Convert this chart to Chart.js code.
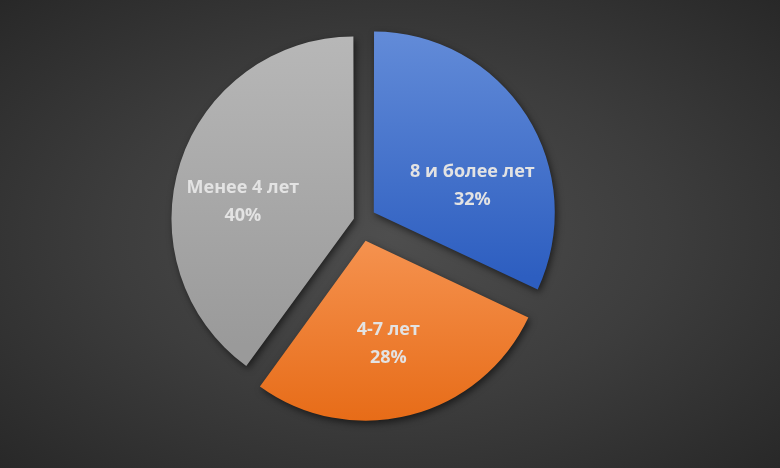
<!DOCTYPE html>
<html>
<head>
<meta charset="utf-8">
<script src="https://cdn.jsdelivr.net/npm/chart.js@4"></script>
<style>
    html, body {
        margin: 0;
        padding: 0;
        width: 780px;
        height: 468px;
        overflow: hidden;
        background: radial-gradient(ellipse at 50% 50%, #4e4e4e 0%, #3d3d3d 50%, #282828 100%);
    }
    canvas { display: block; }
</style>
</head>
<body>
<canvas id="experienceChart" width="780" height="468"></canvas>
<script>
// Chart data
const categories = ['8 и более лет', '4-7 лет', 'Менее 4 лет'];
const shares = [32, 28, 40];

// slice styling (explosion per slice, gradient stops top -> bottom)
const sliceOffsets = [63, 82, 28];
const sliceGradients = [
    [[0, '#628bd8'], [0.68, '#2d5ec0']],
    [[0.5, '#f5924f'], [1, '#e76c18']],
    [[0, '#b7b7b7'], [0.85, '#9a9a9a']]
];
// label placement: angle tilt from bisector (deg), distance as fraction of radius
const labelTilt = [17, 2, -9.4];
const labelDist = [0.57, 0.59, 0.625];

function sliceColor(context) {
    const chart = context.chart;
    const area = chart.chartArea;
    if (!area) return '#999';
    const cy = (area.top + area.bottom) / 2;
    const r = context.dataset.radius;
    const g = chart.ctx.createLinearGradient(0, cy - r, 0, cy + r);
    sliceGradients[context.dataIndex].forEach(function (s) {
        g.addColorStop(s[0], s[1]);
    });
    return g;
}

const sliceDecor = {
    id: 'sliceDecor',
    beforeDatasetsDraw(chart) {
        const ctx = chart.ctx;
        ctx.save();
        ctx.shadowColor = 'rgba(0, 0, 0, 0.55)';
        ctx.shadowBlur = 7;
        ctx.shadowOffsetX = 2;
        ctx.shadowOffsetY = 3;
    },
    afterDatasetsDraw(chart) {
        const ctx = chart.ctx;
        ctx.restore();
        const meta = chart.getDatasetMeta(0);
        ctx.save();
        ctx.fillStyle = '#e3e3e3';
        ctx.font = 'bold 18px "Open Sans", "Liberation Sans", sans-serif';
        ctx.textAlign = 'center';
        ctx.textBaseline = 'middle';
        meta.data.forEach(function (arc, i) {
            const p = arc.getProps(['x', 'y', 'startAngle', 'endAngle', 'outerRadius'], true);
            const half = (p.startAngle + p.endAngle) / 2;
            const shift = sliceOffsets[i] / 4;
            const cx = p.x + Math.cos(half) * shift;
            const cy = p.y + Math.sin(half) * shift;
            const a = half + labelTilt[i] * Math.PI / 180;
            const lx = cx + Math.cos(a) * labelDist[i] * p.outerRadius;
            const ly = cy + Math.sin(a) * labelDist[i] * p.outerRadius;
            ctx.fillText(categories[i], lx, ly - 14);
            ctx.fillText(shares[i] + '%', lx, ly + 14);
        });
        ctx.restore();
    }
};

function initExperienceChart() {
    const ctx = document.getElementById('experienceChart');
    if (!ctx) return;

    new Chart(ctx, {
        type: 'pie',
        data: {
            labels: categories,
            datasets: [{
                data: shares,
                radius: 179.5,
                backgroundColor: sliceColor,
                borderWidth: 0,
                offset: sliceOffsets,
                hoverOffset: 0
            }]
        },
        options: {
            responsive: false,
            animation: false,
            layout: {
                padding: { left: 0, right: 59, top: 0, bottom: 26 }
            },
            plugins: {
                legend: { display: false },
                tooltip: { enabled: false }
            }
        },
        plugins: [sliceDecor]
    });
}

initExperienceChart();
</script>
</body>
</html>
